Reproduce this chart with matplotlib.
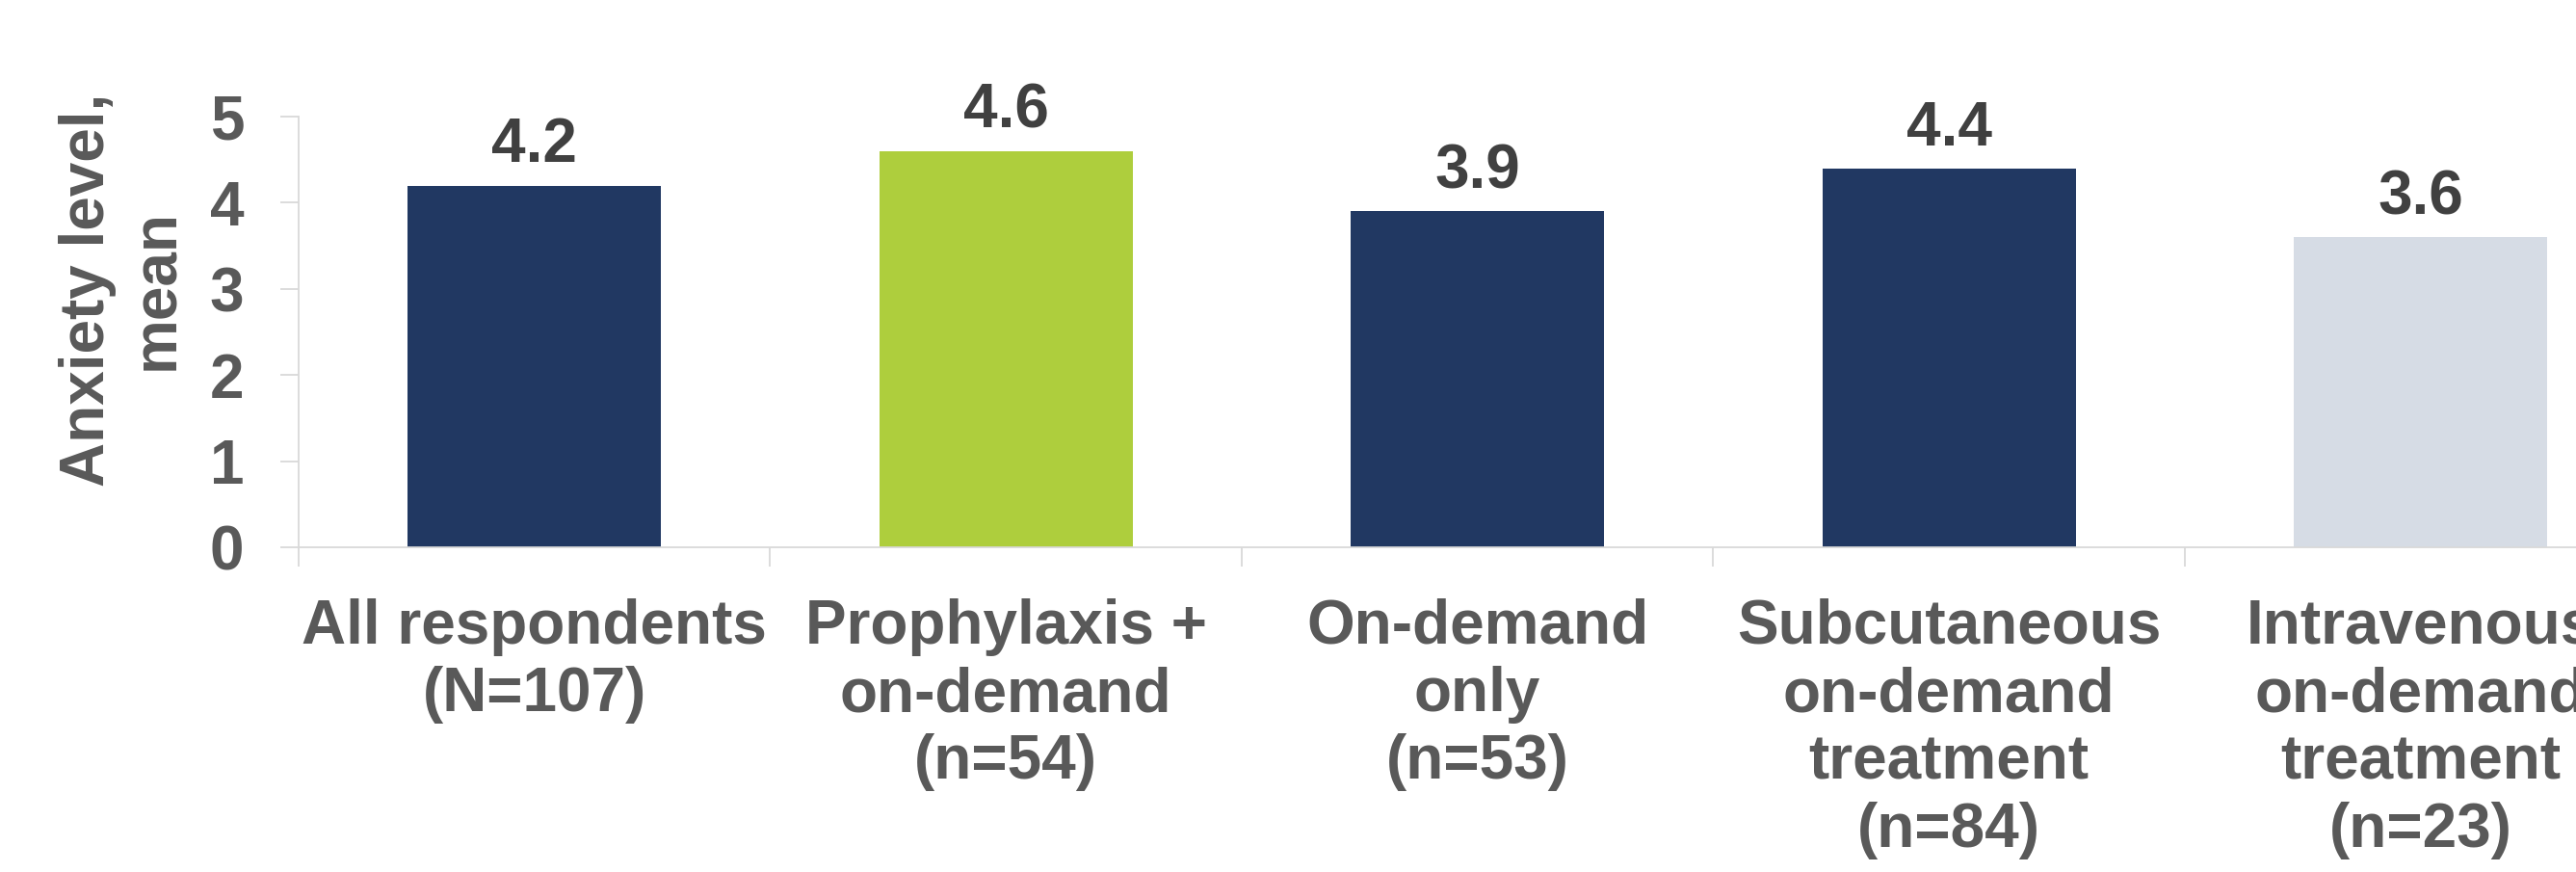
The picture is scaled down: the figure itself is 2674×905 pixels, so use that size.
import matplotlib
matplotlib.use("Agg")
import matplotlib.pyplot as plt
from matplotlib.ticker import FixedLocator

# data
categories = [
    "All respondents\n(N=107)",
    "Prophylaxis +\non-demand\n(n=54)",
    "On-demand\nonly\n(n=53)",
    "Subcutaneous\non-demand\ntreatment\n(n=84)",
    "Intravenous\non-demand\ntreatment\n(n=23)",
]
anxiety_mean = [4.2, 4.6, 3.9, 4.4, 3.6]
bar_colors = ["#213862", "#AECE3D", "#213862", "#213862", "#D6DCE5"]
y_ticks = [0, 1, 2, 3, 4, 5]

plt.rcParams['font.family'] = ['Liberation Sans', 'DejaVu Sans']
plt.rcParams['font.weight'] = 'bold'

fig = plt.figure(figsize=(26.74, 9.05), dpi=100)
# axes runs past the right edge, as in the cropped reference
ax = fig.add_axes([0.1159, 0.3724, 0.9153, 0.4939])

x = list(range(len(categories)))
bars = ax.bar(x, anxiety_mean, width=0.537, color=bar_colors, zorder=2)
ax.bar_label(bars, labels=[f"{v:.1f}" for v in anxiety_mean], padding=8,
             fontsize=46, fontweight='bold', color='#404040')

ax.set_xlim(-0.5, len(categories) - 0.5)
ax.set_ylim(0, 5)
ax.set_yticks(y_ticks)
ax.set_xticks(x)
ax.set_xticklabels(categories, linespacing=1.22)
ax.xaxis.set_minor_locator(FixedLocator([i - 0.5 for i in range(len(categories) + 1)]))

grey = '#D9D9D9'
for side in ['top', 'right']:
    ax.spines[side].set_visible(False)
for side in ['left', 'bottom']:
    ax.spines[side].set_color(grey)
    ax.spines[side].set_linewidth(1.3)

ax.tick_params(axis='y', length=13.7, width=1.3, color=grey, pad=27,
               labelsize=46, labelcolor='#595959')
ax.tick_params(axis='x', which='major', length=0, pad=38,
               labelsize=46, labelcolor='#595959')
ax.tick_params(axis='x', which='minor', length=14.4, width=1.3, color=grey)

fig.text(0.0475, 0.668, "Anxiety level,\nmean", rotation=90, ha='center', va='center',
         fontsize=46, fontweight='bold', color='#595959', linespacing=1.25)

fig.savefig("out.png", dpi=100)
plt.close(fig)
